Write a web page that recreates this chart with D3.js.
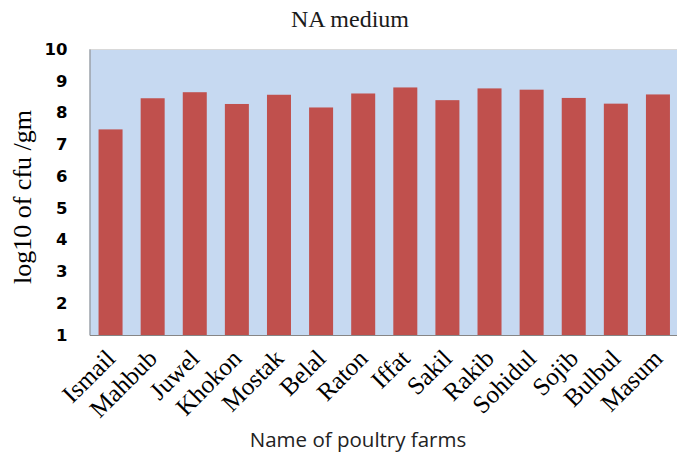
<!DOCTYPE html>
<html>
<head>
<meta charset="utf-8">
<script src="https://cdn.jsdelivr.net/npm/d3@7"></script>
<style>
  body { margin: 0; background: #fff; }
  .serif { font-family: "Liberation Serif", "Times New Roman", serif; }
</style>
</head>
<body>
<div id="chart"></div>
<script>
// data
const farms = ["Ismail", "Mahbub", "Juwel", "Khokon", "Mostak", "Belal", "Raton",
               "Iffat", "Sakil", "Rakib", "Sohidul", "Sojib", "Bulbul", "Masum"];
const logCfu = [7.47, 8.45, 8.64, 8.27, 8.56, 8.16, 8.60,
                8.79, 8.39, 8.76, 8.72, 8.46, 8.28, 8.57];
const yTicks = [1, 2, 3, 4, 5, 6, 7, 8, 9, 10];

const W = 677, H = 459;
const margin = { top: 49, right: -2, bottom: 124, left: 89.5 },
    width = W - margin.left - margin.right,
    height = H - margin.top - margin.bottom;

const svg = d3.select("#chart")
    .append("svg")
    .attr("width", W)
    .attr("height", H);

const g = svg.append("g")
    .attr("transform", "translate(" + margin.left + "," + margin.top + ")");

const x = d3.scaleBand().domain(farms).range([0, width])
    .paddingInner(0.43).paddingOuter(0.215);
const y = d3.scaleLinear().domain([1, 10]).range([height, 0]);

// plot area background
g.append("rect")
    .attr("width", width)
    .attr("height", height)
    .attr("fill", "#c6d9f1");

// top border
g.append("line")
    .attr("x1", 0).attr("x2", width)
    .attr("y1", 0.5).attr("y2", 0.5)
    .attr("stroke", "#d9d9d9");

// bars
g.selectAll(".bar")
    .data(farms)
    .join("rect")
    .attr("class", "bar")
    .attr("x", d => x(d))
    .attr("width", x.bandwidth())
    .attr("y", (d, i) => y(logCfu[i]))
    .attr("height", (d, i) => height - y(logCfu[i]))
    .attr("fill", "#c0504d");

// Y axis
const yAxis = g.append("g")
    .call(d3.axisLeft(y).tickValues(yTicks).tickSize(0).tickPadding(22).tickFormat(d3.format("d")));
yAxis.select(".domain").attr("stroke", "#868686");
yAxis.attr("font-family", null).attr("font-size", null);
yAxis.selectAll("text")
    .style("font-family", "'DejaVu Sans', sans-serif")
    .style("font-weight", "bold")
    .style("font-size", "16.5px")
    .attr("fill", "#000");

// X axis
const xAxis = g.append("g")
    .attr("transform", "translate(0," + height + ")")
    .call(d3.axisBottom(x).tickSize(0).tickPadding(0));
xAxis.select(".domain").attr("stroke", "#868686");
xAxis.attr("font-family", null).attr("font-size", null);
xAxis.selectAll("text")
    .attr("class", "serif")
    .style("font-size", "25px")
    .attr("fill", "#000")
    .attr("text-anchor", "end")
    .attr("dy", null)
    .attr("y", null)
    .attr("transform", "translate(6,25) rotate(-45)");

// title
svg.append("text")
    .attr("class", "serif")
    .attr("x", 350)
    .attr("y", 27)
    .attr("text-anchor", "middle")
    .style("font-size", "24px")
    .attr("fill", "#1a1a1a")
    .text("NA medium");

// Y axis label
svg.append("text")
    .attr("class", "serif")
    .attr("text-anchor", "middle")
    .attr("transform", "translate(31,197) rotate(-90)")
    .style("font-size", "26px")
    .attr("fill", "#000")
    .text("log10 of cfu /gm");

// X axis label
svg.append("text")
    .attr("x", 358)
    .attr("y", 447)
    .attr("text-anchor", "middle")
    .style("font-family", "'Open Sans', sans-serif")
    .style("font-size", "20.5px")
    .attr("fill", "#222")
    .text("Name of poultry farms");
</script>
</body>
</html>
